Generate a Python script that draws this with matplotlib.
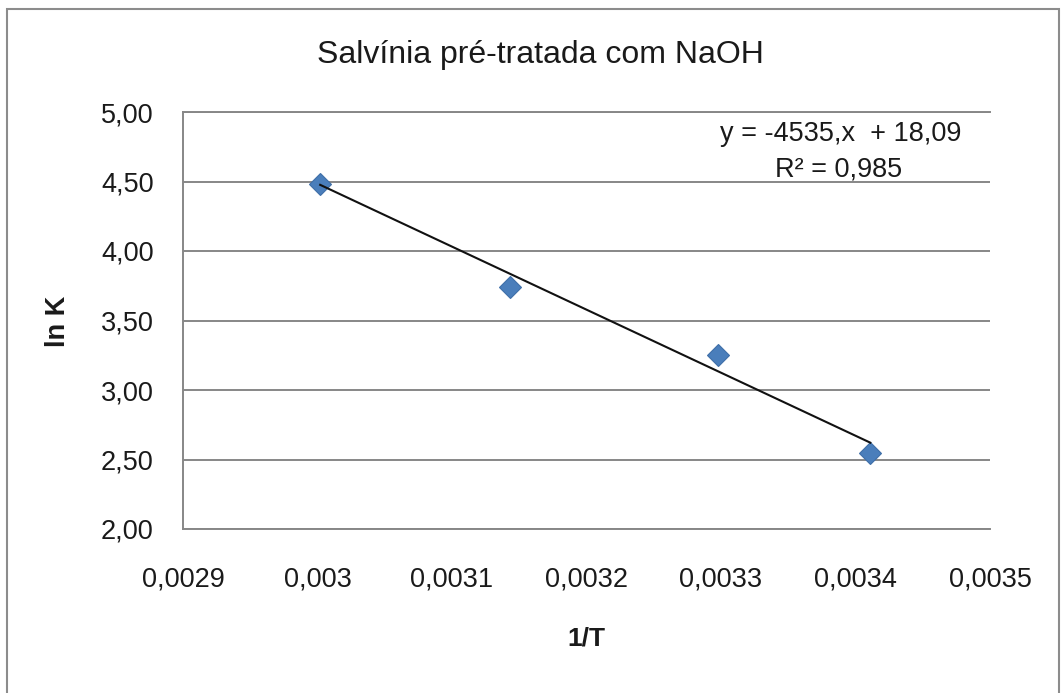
import numpy as np
import matplotlib
matplotlib.use("Agg")
import matplotlib.pyplot as plt
from matplotlib.patches import Rectangle

# Arrhenius data: 1/T vs ln K
inv_T = [0.003002, 0.003143, 0.003298, 0.003411]
ln_K = [4.48, 3.74, 3.25, 2.55]

# linear trendline as reported
slope = -4535
intercept = 18.09
r_squared = 0.985

x_ticks = [0.0029, 0.0030, 0.0031, 0.0032, 0.0033, 0.0034, 0.0035]
x_tick_labels = ["0,0029", "0,003", "0,0031", "0,0032", "0,0033", "0,0034", "0,0035"]
y_ticks = [2.0, 2.5, 3.0, 3.5, 4.0, 4.5, 5.0]

W, H = 1062, 693
plt.rcParams['font.family'] = ['Liberation Sans', 'DejaVu Sans']

fig = plt.figure(figsize=(W / 100, H / 100), dpi=100)
fig.patch.set_facecolor('white')

# chart frame
fig.patches.append(Rectangle((7 / W, -0.05), (1059 - 7) / W, 1.05 - 9 / H,
                             transform=fig.transFigure, fill=False,
                             edgecolor='#8c8c8c', linewidth=1.5))

left, right, top, bottom = 183, 990, 112, 529
ax = fig.add_axes([left / W, 1 - bottom / H, (right - left) / W, (bottom - top) / H])

grid_color = '#878787'
ax.set_xlim(0.0029, 0.0035)
ax.set_ylim(2.0, 5.0)
ax.set_xticks(x_ticks)
ax.set_xticklabels(x_tick_labels)
ax.set_yticks(y_ticks)
ax.set_yticklabels([f"{v:.2f}".replace('.', ',') for v in y_ticks])
ax.tick_params(axis='both', length=0, labelsize=19.5, colors='#1a1a1a')
ax.tick_params(axis='x', pad=27)
ax.tick_params(axis='y', pad=21)

ax.yaxis.grid(True, color=grid_color, linewidth=1.4)
ax.set_axisbelow(True)
for side in ['left', 'bottom', 'top']:
    ax.spines[side].set_color(grid_color)
    ax.spines[side].set_linewidth(1.4)
ax.spines['right'].set_visible(False)

# data points
ax.plot(inv_T, ln_K, linestyle='none', marker='D', markersize=11,
        markerfacecolor='#4a7ebb', markeredgecolor='#3f6fa8', markeredgewidth=0.8,
        zorder=3)

# trendline over the data range
xs = np.array([min(inv_T), max(inv_T)])
ax.plot(xs, slope * xs + intercept, color='#111111', linewidth=1.5, zorder=4)

# equation label
ax.text(841 / W, 1 - 141 / H,
        f"y = {slope},x  + {intercept:.2f}".replace('.', ','),
        transform=fig.transFigure, ha='center', va='baseline', fontsize=19.5,
        color='#1a1a1a')
ax.text(839 / W, 1 - 176 / H,
        f"R² = {r_squared:.3f}".replace('.', ','),
        transform=fig.transFigure, ha='center', va='baseline', fontsize=19.5,
        color='#1a1a1a')

fig.text(540 / W, 1 - 63 / H, "Salvínia pré-tratada com NaOH",
         ha='center', va='baseline', fontsize=23, color='#1a1a1a')
fig.text(586 / W, 1 - 638 / H, "1/T", ha='center', va='center',
         fontsize=19, fontweight='bold', color='#1a1a1a')
fig.text(58 / W, 1 - 321 / H, "ln K", ha='center', va='center', rotation=90,
         fontsize=19.5, fontweight='bold', color='#1a1a1a')

fig.savefig("out.png", dpi=100)
